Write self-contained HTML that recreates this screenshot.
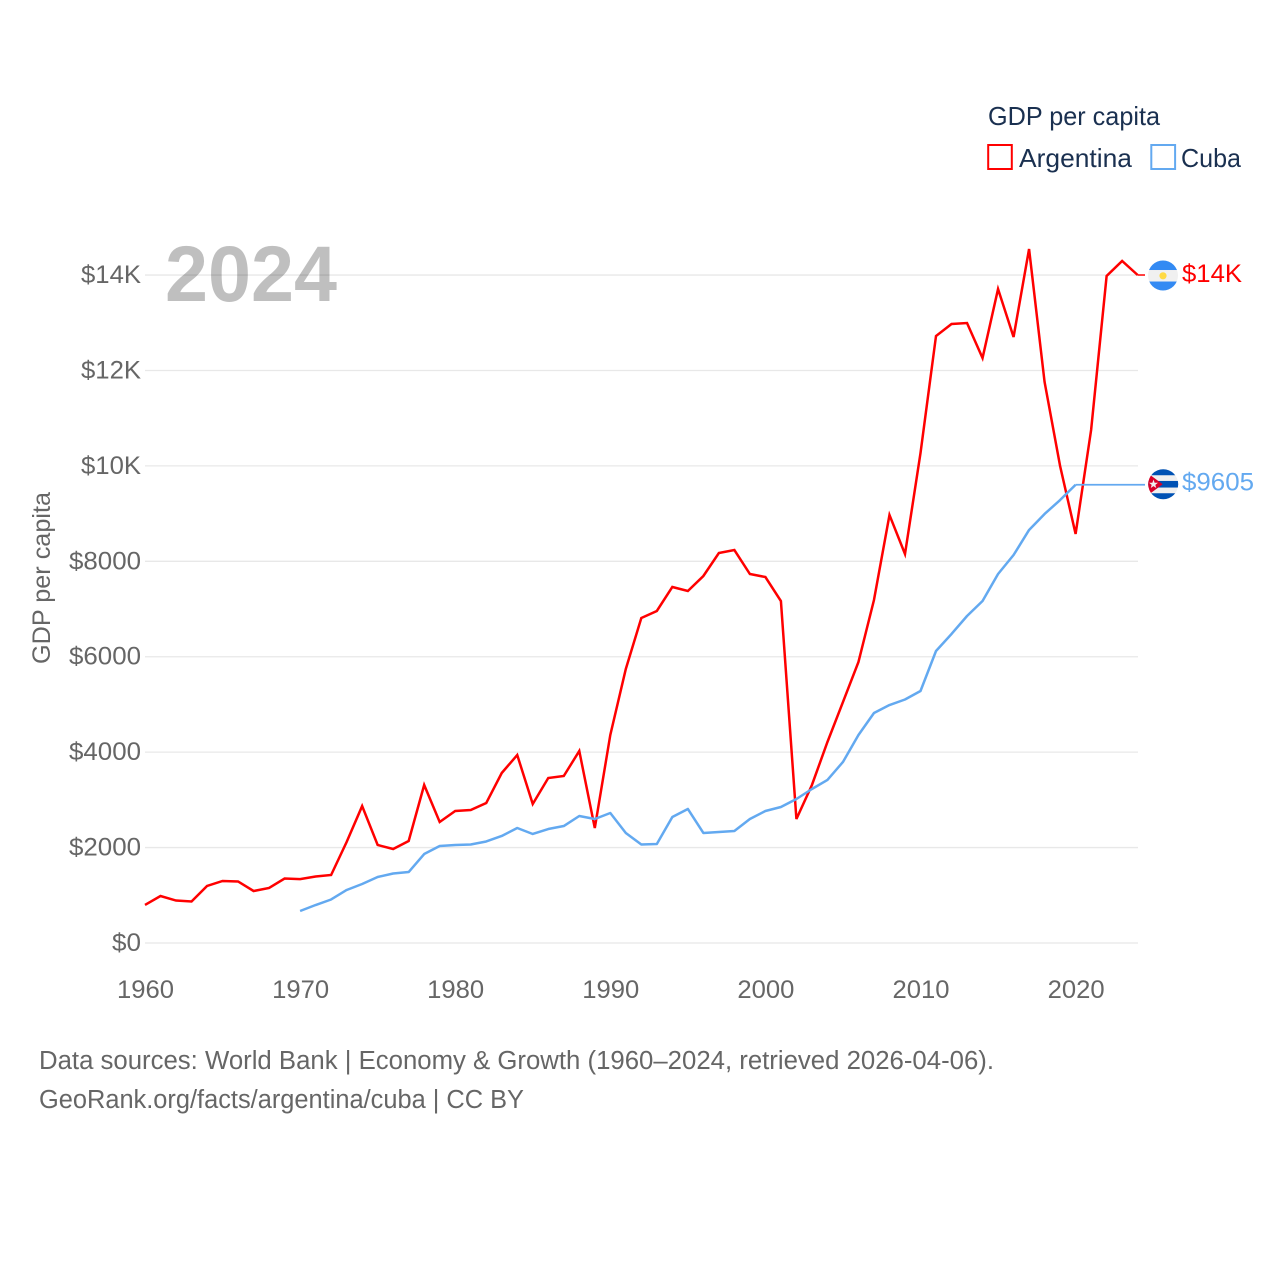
<!DOCTYPE html>
<html lang="en">
<head>
<meta charset="utf-8">
<title>GDP per capita: Argentina and Cuba</title>
<style>
html,body{margin:0;padding:0;background:#fff;}
svg{display:block;font-family:"Liberation Sans",sans-serif;}
</style>
</head>
<body>
<svg id="chart" width="1280" height="1280" viewBox="0 0 1280 1280" xmlns="http://www.w3.org/2000/svg">
  <defs>
    <clipPath id="flag-ar-clip"><circle cx="0" cy="0" r="15"/></clipPath>
    <clipPath id="flag-cu-clip"><circle cx="0" cy="0" r="15"/></clipPath>
  </defs>
  <rect width="1280" height="1280" fill="#fff"/>

  <g>
    <text x="988" y="125" font-size="26" fill="#1a3050" textLength="172" lengthAdjust="spacingAndGlyphs">GDP per capita</text>
    <g>
      <rect x="988.2" y="145" width="23.6" height="24" fill="#fff" stroke="#ff0000" stroke-width="2"/>
      <text x="1019" y="167" font-size="26" fill="#1a3050" textLength="113" lengthAdjust="spacingAndGlyphs">Argentina</text>
    </g>
    <g>
      <rect x="1151.3" y="145" width="23.8" height="24" fill="#fff" stroke="#63a9f0" stroke-width="2"/>
      <text x="1181" y="167" font-size="26" fill="#1a3050" textLength="60" lengthAdjust="spacingAndGlyphs">Cuba</text>
    </g>
  </g>

  <g id="grid"></g>
  <g id="y-axis"></g>
  <g id="x-axis"></g>

  <text transform="translate(50,578) rotate(-90)" text-anchor="middle" font-size="25" fill="#666" textLength="172" lengthAdjust="spacingAndGlyphs">GDP per capita</text>
  <text x="165" y="301" font-size="79" font-weight="bold" fill="#000" fill-opacity="0.25" textLength="172" lengthAdjust="spacingAndGlyphs">2024</text>

  <g id="series"></g>

  <g id="flag-argentina">
    <g clip-path="url(#flag-ar-clip)">
      <rect x="-16" y="-16" width="32" height="32" fill="#f0f0f0"/>
      <rect x="-16" y="-16" width="32" height="10.5" fill="#338af3"/>
      <rect x="-16" y="6" width="32" height="10" fill="#338af3"/>
      <circle cx="0" cy="0.3" r="3.6" fill="#ffda44"/>
    </g>
  </g>
  <g id="flag-cuba">
    <g clip-path="url(#flag-cu-clip)">
      <rect x="-16" y="-16" width="32" height="32" fill="#f0f0f0"/>
      <rect x="-16" y="-16" width="32" height="7" fill="#0052b4"/>
      <rect x="-16" y="-3.3" width="32" height="6.6" fill="#0052b4"/>
      <rect x="-16" y="9" width="32" height="7" fill="#0052b4"/>
      <polygon points="-16,-11.5 -0.5,0 -16,11.5" fill="#d80027"/>
      <polygon points="-9.7,-4.7 -8.58,-1.54 -5.23,-1.45 -7.89,0.59 -6.94,3.8 -9.7,1.9 -12.46,3.8 -11.51,0.59 -14.17,-1.45 -10.82,-1.54" fill="#f0f0f0"/>
    </g>
  </g>
  <g id="end-labels"></g>

  <g>
    <text x="39" y="1069" font-size="25.5" fill="#666" textLength="955" lengthAdjust="spacingAndGlyphs">Data sources: World Bank | Economy &amp; Growth (1960–2024, retrieved 2026-04-06).</text>
    <text x="39" y="1108" font-size="25.5" fill="#666" textLength="485" lengthAdjust="spacingAndGlyphs">GeoRank.org/facts/argentina/cuba | CC BY</text>
  </g>
</svg>
<script>
var xTicks = [1960, 1970, 1980, 1990, 2000, 2010, 2020];
var yTicks = [0, 2000, 4000, 6000, 8000, 10000, 12000, 14000];
var yTickLabels = ["$0", "$2000", "$4000", "$6000", "$8000", "$10K", "$12K", "$14K"];
var argentinaStartYear = 1960;
var argentinaValues = [797, 985, 890, 870, 1195, 1300, 1290, 1090, 1153, 1352, 1340, 1394, 1425, 2117, 2870, 2054, 1970, 2138, 3312, 2536, 2767, 2788, 2934, 3563, 3940, 2913, 3458, 3500, 4024, 2410, 4360, 5743, 6812, 6959, 7462, 7378, 7692, 8174, 8237, 7734, 7671, 7168, 2599, 3312, 4213, 5051, 5890, 7189, 8971, 8153, 10270, 12723, 12974, 12995, 12262, 13708, 12702, 14546, 11759, 9998, 8573, 10752, 13980, 14295, 14001];
var cubaStartYear = 1970;
var cubaValues = [671, 796, 912, 1111, 1237, 1383, 1457, 1488, 1865, 2033, 2054, 2065, 2128, 2243, 2410, 2285, 2389, 2452, 2662, 2599, 2725, 2306, 2065, 2075, 2641, 2809, 2306, 2327, 2348, 2599, 2767, 2851, 3018, 3228, 3417, 3794, 4360, 4821, 4988, 5104, 5282, 6120, 6477, 6854, 7168, 7734, 8132, 8657, 8992, 9285, 9605];
var argentinaEndLabel = "$14K";
var cubaEndLabel = "$9605";

var NS = "http://www.w3.org/2000/svg";
function xScale(year) { return 145 + (year - 1960) * 15.51; }
function yScale(value) { return 943 - value * 0.04771; }
function make(tag, attrs, parent, text) {
  var el = document.createElementNS(NS, tag);
  for (var k in attrs) el.setAttribute(k, attrs[k]);
  if (text !== undefined) el.textContent = text;
  parent.appendChild(el);
  return el;
}
function pathFor(values, startYear) {
  return values.map(function (v, i) {
    return (i ? "L" : "M") + xScale(startYear + i).toFixed(2) + " " + yScale(v).toFixed(2);
  }).join(" ");
}
function tickTextWidth(str) { return str.length === 2 ? 29 : (str.length === 4 ? 60 : 72); }

var grid = document.getElementById("grid");
var yAxis = document.getElementById("y-axis");
var xAxis = document.getElementById("x-axis");
var seriesGroup = document.getElementById("series");
var endLabels = document.getElementById("end-labels");

yTicks.forEach(function (t, i) {
  var y = yScale(t);
  var line = make("line", { x1: 145, x2: 1138, y1: y, y2: y, stroke: "#e8e8e8", "stroke-width": 1.3 }, grid);
  
  
  var label = make("text", { x: 141, y: y + 8, "text-anchor": "end", "font-size": 25, fill: "#666", textLength: tickTextWidth(yTickLabels[i]), lengthAdjust: "spacingAndGlyphs" }, yAxis, yTickLabels[i]);
  
  
});

xTicks.forEach(function (t) {
  var label = make("text", { x: xScale(t) + 0.5, y: 998, "text-anchor": "middle", "font-size": 25, fill: "#666", textLength: 57, lengthAdjust: "spacingAndGlyphs" }, xAxis, String(t));
  
  
});

var redLine = make("path", { d: pathFor(argentinaValues, argentinaStartYear), fill: "none", stroke: "#ff0000", "stroke-width": 2.5, "stroke-linejoin": "miter" }, seriesGroup);



var blueLine = make("path", { d: pathFor(cubaValues, cubaStartYear), fill: "none", stroke: "#63a9f0", "stroke-width": 2.5, "stroke-linejoin": "round" }, seriesGroup);



var arLast = argentinaValues[argentinaValues.length - 1];
var arLastX = xScale(argentinaStartYear + argentinaValues.length - 1);
var cuLast = cubaValues[cubaValues.length - 1];
var cuLastX = xScale(cubaStartYear + cubaValues.length - 1);

var redLink = make("line", { x1: arLastX, x2: 1145, y1: yScale(arLast), y2: yScale(arLast), stroke: "#ff0000", "stroke-width": 1.5 }, seriesGroup);



var blueLink = make("line", { x1: cuLastX, x2: 1145, y1: yScale(cuLast), y2: yScale(cuLast), stroke: "#63a9f0", "stroke-width": 1.7 }, seriesGroup);



document.getElementById("flag-argentina").setAttribute("transform", "translate(1163," + (yScale(arLast) + 0.5) + ")");
document.getElementById("flag-cuba").setAttribute("transform", "translate(1163.2," + (yScale(cuLast) - 0.5) + ")");

var arLabel = make("text", { x: 1182, y: yScale(arLast) + 7, "font-size": 25, fill: "#ff0000", textLength: 60, lengthAdjust: "spacingAndGlyphs" }, endLabels, argentinaEndLabel);



var cuLabel = make("text", { x: 1182, y: yScale(cuLast) + 6, "font-size": 25, fill: "#63a9f0", textLength: 72, lengthAdjust: "spacingAndGlyphs" }, endLabels, cubaEndLabel);


</script>
</body>
</html>
